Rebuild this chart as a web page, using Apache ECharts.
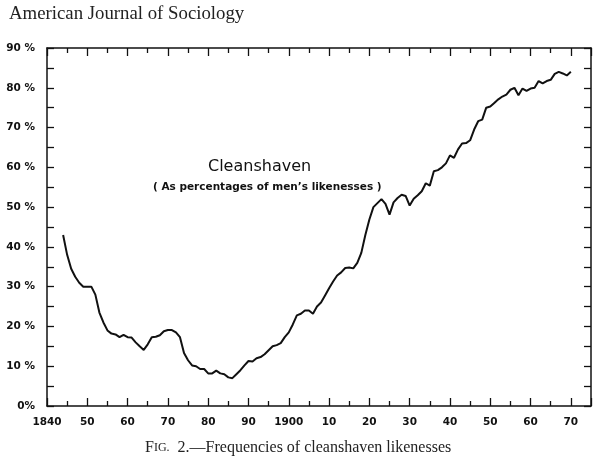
<!DOCTYPE html>
<html>
<head>
<meta charset="utf-8">
<script src="https://cdn.jsdelivr.net/npm/echarts@6/dist/echarts.min.js"></script>
<style>
html,body{margin:0;padding:0;background:#fff;}
#chart{width:598px;height:460px;}
</style>
</head>
<body>
<div id="chart"></div>
<script>
var years = [1844,1845,1846,1847,1848,1849,1850,1851,1852,1853,1854,1855,1856,1857,1858,1859,
1860,1861,1862,1863,1864,1865,1866,1867,1868,1869,1870,1871,1872,1873,1874,1875,1876,1877,1878,1879,
1880,1881,1882,1883,1884,1885,1886,1887,1888,1889,1890,1891,1892,1893,1894,1895,1896,1897,1898,1899,
1900,1901,1902,1903,1904,1905,1906,1907,1908,1909,1910,1911,1912,1913,1914,1915,1916,1917,1918,1919,
1920,1921,1922,1923,1924,1925,1926,1927,1928,1929,1930,1931,1932,1933,1934,1935,1936,1937,1938,1939,
1940,1941,1942,1943,1944,1945,1946,1947,1948,1949,1950,1951,1952,1953,1954,1955,1956,1957,1958,1959,
1960,1961,1962,1963,1964,1965,1966,1967,1968,1969,1970];
var cleanshaven = [43,38,34.5,32.5,31,30,30,30,28,23.5,21,19,18.2,18,17.3,17.9,
17.3,17.2,16,15,14.1,15.5,17.3,17.4,17.8,18.8,19.1,19.1,18.5,17.3,13.3,11.5,10.2,10,9.3,9.3,
8.2,8.2,8.9,8.2,8.0,7.2,7.0,8.0,9.0,10.2,11.3,11.2,12.0,12.3,13.0,14.0,15.0,15.3,15.8,17.3,
18.5,20.5,22.8,23.2,24,24,23.2,25,26,27.8,29.6,31.3,32.8,33.6,34.7,34.8,34.6,36,38.5,43,
46.9,50,51,52,50.8,48.1,51.2,52.3,53.1,52.8,50.4,52.1,53,54,56,55.4,59,59.3,60,61,
63,62.4,64.5,66,66.1,66.8,69.5,71.6,72,75,75.3,76.2,77.1,77.8,78.3,79.5,80,78.1,79.8,79.2,
79.8,80,81.7,81.1,81.7,82,83.5,84,83.6,83.1,84];
var xTickLabels = {1840:'1840',1850:'50',1860:'60',1870:'70',1880:'80',1890:'90',1900:'1900',
1910:'10',1920:'20',1930:'30',1940:'40',1950:'50',1960:'60',1970:'70'};
var yTickLabels = {0:'0%',10:'10 %',20:'20 %',30:'30 %',40:'40 %',50:'50 %',60:'60 %',70:'70 %',80:'80 %',90:'90 %'};
var titleText = 'American Journal of Sociology';
var captionText = '—Frequencies of cleanshaven likenesses';
var noteTitle = 'Cleanshaven';
var noteSub = '( As percentages of men\u2019s likenesses )';

var pts = years.map(function(y,i){return [y, cleanshaven[i]];});
var labelFont = {fontFamily:'DejaVu Sans', fontSize:10.5, color:'#111', fontWeight:'bold'};
var axisLine = {show:true, onZero:false, lineStyle:{color:'#111', width:1.5}};

function xAxisCfg(pos, labels){
  return {
    type:'value', position:pos, min:1840, max:1975, interval:10,
    axisLine:axisLine,
    axisTick:{show:true, inside:true, length:8, lineStyle:{color:'#111', width:1.3}},
    minorTick:{show:true, splitNumber:2, length:5, lineStyle:{color:'#111', width:1.3}},
    splitLine:{show:false},
    axisLabel: labels ? Object.assign({show:true, margin:11, formatter:function(v){return xTickLabels[v]||'';}}, labelFont) : {show:false}
  };
}
function yAxisCfg(pos, labels){
  return {
    type:'value', position:pos, min:0, max:90, interval:10,
    axisLine:axisLine,
    axisTick:{show:true, inside:true, length:7, lineStyle:{color:'#111', width:1.3}},
    minorTick:{show:true, splitNumber:2, length:7, lineStyle:{color:'#111', width:1.3}},
    splitLine:{show:false},
    axisLabel: labels ? Object.assign({show:true, margin:12, formatter:function(v){return yTickLabels[v]||'';}}, labelFont) : {show:false}
  };
}

var chart = echarts.init(document.getElementById('chart'), null, {renderer:'canvas'});
chart.setOption({
  animation:false,
  backgroundColor:'#fff',
  grid:{left:47, right:7, top:48, bottom:54},
  xAxis:[xAxisCfg('bottom', true), xAxisCfg('top', false)],
  yAxis:[yAxisCfg('left', true), yAxisCfg('right', false)],
  series:[{
    type:'line', data:pts, xAxisIndex:0, yAxisIndex:0,
    showSymbol:false, symbol:'none', smooth:false,
    lineStyle:{color:'#111', width:2}
  }],
  graphic:[
    {type:'text', left:9, top:5, style:{text:titleText, font:'18.8px "Liberation Serif"', fill:'#222'}},
    {type:'text', left:145, top:440, style:{
      text:'{a|F}{b|IG.}{a|  2.' + captionText + '}',
      rich:{a:{font:'16px "Liberation Serif"', fill:'#222'}, b:{font:'12px "Liberation Serif"', fill:'#222'}}
    }},
    {type:'text', left:208, top:159, style:{text:noteTitle, font:'16px "DejaVu Sans"', fill:'#111'}},
    {type:'text', left:153, top:182, style:{text:noteSub, font:'bold 10.5px "DejaVu Sans"', fill:'#111'}}
  ]
});
</script>
</body>
</html>
